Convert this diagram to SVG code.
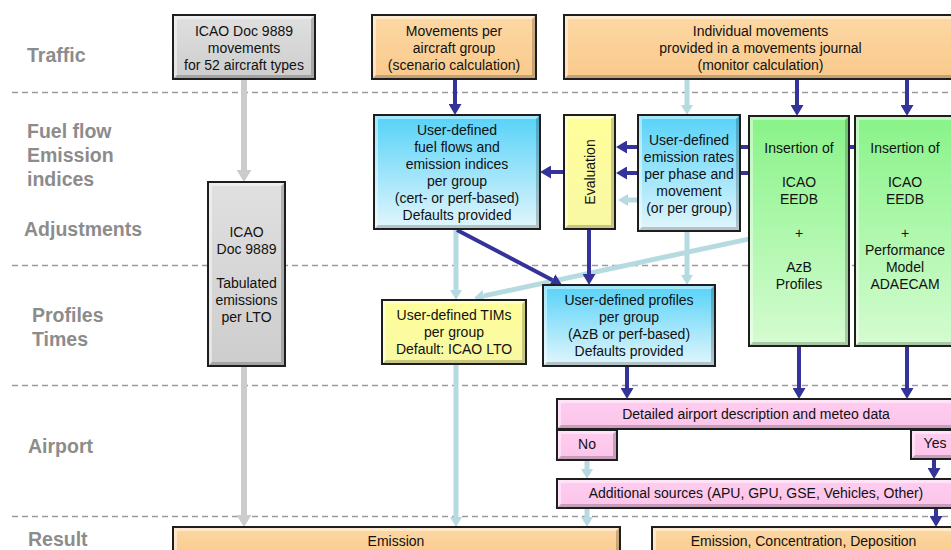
<svg xmlns="http://www.w3.org/2000/svg" width="951" height="550" viewBox="0 0 951 550">
<style>
.lbl{font-family:"Liberation Sans",Arial,sans-serif;font-size:19.5px;font-weight:bold;fill:#8c8c8c}
.t{font-family:"Liberation Sans",Arial,sans-serif;font-size:14px;fill:#111;text-anchor:middle}
.box{stroke:#1e1e1e;stroke-width:2}
.sh{fill:#000;fill-opacity:0.2}
.hl{fill:#fff;fill-opacity:0.45}
.dash{stroke:#9a9a9a;stroke-width:1.3;stroke-dasharray:6 4;fill:none}
.cb{stroke:#333399;stroke-width:4;fill:none;marker-end:url(#mb)}
.cl{stroke:#b5dbe1;stroke-width:5;fill:none;marker-end:url(#ml)}
.cg{stroke:#cccccc;stroke-width:6;fill:none;marker-end:url(#mg)}
</style>
<defs>
<linearGradient id="gGray" x1="0" y1="0" x2="0" y2="1"><stop offset="0" stop-color="#e0e0e0"/><stop offset="1" stop-color="#cdcdcd"/></linearGradient>
<linearGradient id="gOr" x1="0" y1="0" x2="0" y2="1"><stop offset="0" stop-color="#fdd8a4"/><stop offset="1" stop-color="#f9c98c"/></linearGradient>
<linearGradient id="gBl" x1="0" y1="0" x2="0" y2="1"><stop offset="0" stop-color="#55d2f8"/><stop offset="1" stop-color="#e3f6fc"/></linearGradient>
<linearGradient id="gYe" x1="0" y1="0" x2="0" y2="1"><stop offset="0" stop-color="#ffff9a"/><stop offset="1" stop-color="#f8f8a4"/></linearGradient>
<linearGradient id="gGr" x1="0" y1="0" x2="0" y2="1"><stop offset="0" stop-color="#88f388"/><stop offset="1" stop-color="#d5fcd1"/></linearGradient>
<linearGradient id="gPk" x1="0" y1="0" x2="0" y2="1"><stop offset="0" stop-color="#ffcdef"/><stop offset="1" stop-color="#fbc4ea"/></linearGradient>
<marker id="mb" viewBox="0 0 11 13" markerWidth="11" markerHeight="13" refX="0" refY="6.5" orient="auto" markerUnits="userSpaceOnUse"><path d="M0,0 L11,6.5 L0,13 Z" fill="#333399"/></marker>
<marker id="ml" viewBox="0 0 10 12" markerWidth="10" markerHeight="12" refX="0" refY="6" orient="auto" markerUnits="userSpaceOnUse"><path d="M0,0 L10,6 L0,12 Z" fill="#b5dbe1"/></marker>
<marker id="mg" viewBox="0 0 12 15" markerWidth="12" markerHeight="15" refX="0" refY="7.5" orient="auto" markerUnits="userSpaceOnUse"><path d="M0,0 L12,7.5 L0,15 Z" fill="#cccccc"/></marker>
</defs>
<rect width="951" height="550" fill="#ffffff"/>
<g id="lanes">
<line class="dash" x1="12" y1="92.5" x2="951" y2="92.5"/>
<line class="dash" x1="12" y1="265.5" x2="951" y2="265.5"/>
<line class="dash" x1="12" y1="385.5" x2="951" y2="385.5"/>
<line class="dash" x1="12" y1="516.5" x2="951" y2="516.5"/>
<text class="lbl" x="27" y="62">Traffic</text>
<text class="lbl" x="27" y="138">Fuel flow</text>
<text class="lbl" x="27" y="162">Emission</text>
<text class="lbl" x="27" y="186">indices</text>
<text class="lbl" x="24" y="236">Adjustments</text>
<text class="lbl" x="32" y="322">Profiles</text>
<text class="lbl" x="32" y="346">Times</text>
<text class="lbl" x="28" y="453">Airport</text>
<text class="lbl" x="28" y="546">Result</text>
</g>
<g id="connectors">
<line class="cg" x1="244" y1="80" x2="244" y2="170"/>
<line class="cg" x1="244" y1="366" x2="244" y2="515"/>
<line class="cl" x1="687" y1="80" x2="687" y2="105"/>
<line class="cl" x1="638" y1="200" x2="628" y2="200"/>
<line class="cl" x1="687" y1="231" x2="687" y2="275"/>
<line class="cl" x1="456" y1="229" x2="456" y2="290"/>
<line class="cl" x1="456" y1="364" x2="456" y2="517"/>
<line class="cl" x1="760" y1="236.6" x2="483.8" y2="295.9"/>
<line class="cl" x1="587" y1="460" x2="587" y2="469"/>
<line class="cl" x1="587" y1="508" x2="587" y2="517"/>
<line class="cb" x1="455" y1="80" x2="455" y2="104"/>
<line class="cb" x1="797" y1="80" x2="797" y2="105"/>
<line class="cb" x1="907" y1="80" x2="907" y2="105"/>
<line class="cb" x1="905" y1="147" x2="627" y2="147"/>
<line class="cb" x1="800" y1="173" x2="627" y2="173"/>
<line class="cb" x1="564" y1="172" x2="551" y2="172"/>
<line class="cb" x1="589" y1="229" x2="589" y2="274"/>
<line class="cb" x1="457" y1="230" x2="552.3" y2="279.9"/>
<line class="cb" x1="627" y1="366" x2="627" y2="388"/>
<line class="cb" x1="799" y1="346" x2="799" y2="388"/>
<line class="cb" x1="907" y1="346" x2="907" y2="388"/>
<line class="cb" x1="934" y1="459" x2="934" y2="468"/>
<line class="cb" x1="936" y1="508" x2="936" y2="516"/>
</g>
<g id="n-icao-movements">
<rect class="box" x="173" y="15" width="142" height="64" fill="url(#gGray)"/>
<path class="hl" d="M174,78 L174,16 L314,16 L311,19 L177,19 L177,75 Z"/>
<path class="sh" d="M174,78 L314,78 L314,16 L311,19 L311,75 L177,75 Z"/>
<text class="t" x="244" y="35.5">ICAO Doc 9889</text>
<text class="t" x="244" y="52.5">movements</text>
<text class="t" x="244" y="69.5">for 52 aircraft types</text>
</g>
<g id="n-movements-group">
<rect class="box" x="372" y="15" width="164" height="64" fill="url(#gOr)"/>
<path class="hl" d="M373,78 L373,16 L535,16 L532,19 L376,19 L376,75 Z"/>
<path class="sh" d="M373,78 L535,78 L535,16 L532,19 L532,75 L376,75 Z"/>
<text class="t" x="454" y="35.5">Movements per</text>
<text class="t" x="454" y="52.5">aircraft group</text>
<text class="t" x="454" y="69.5">(scenario calculation)</text>
</g>
<g id="n-individual">
<rect class="box" x="564" y="15" width="394" height="64" fill="url(#gOr)"/>
<path class="hl" d="M565,78 L565,16 L957,16 L954,19 L568,19 L568,75 Z"/>
<path class="sh" d="M565,78 L957,78 L957,16 L954,19 L954,75 L568,75 Z"/>
<text class="t" x="760.5" y="35.5">Individual movements</text>
<text class="t" x="760.5" y="52.5">provided in a movements journal</text>
<text class="t" x="760.5" y="69.5">(monitor calculation)</text>
</g>
<g id="n-fuelflows">
<rect class="box" x="374" y="115" width="166" height="114" fill="url(#gBl)"/>
<path class="hl" d="M375,228 L375,116 L539,116 L536,119 L378,119 L378,225 Z"/>
<path class="sh" d="M375,228 L539,228 L539,116 L536,119 L536,225 L378,225 Z"/>
<text class="t" x="457" y="135">User-defined</text>
<text class="t" x="457" y="152">fuel flows and</text>
<text class="t" x="457" y="169">emission indices</text>
<text class="t" x="457" y="186">per group</text>
<text class="t" x="457" y="203">(cert- or perf-based)</text>
<text class="t" x="457" y="220">Defaults provided</text>
</g>
<g id="n-evaluation">
<rect class="box" x="564" y="115" width="51" height="114" fill="url(#gYe)"/>
<path class="hl" d="M565,228 L565,116 L614,116 L611,119 L568,119 L568,225 Z"/>
<path class="sh" d="M565,228 L614,228 L614,116 L611,119 L611,225 L568,225 Z"/>
<text class="t" x="590" y="177" transform="rotate(-90 590 172)">Evaluation</text>
</g>
<g id="n-rates">
<rect class="box" x="638" y="115" width="102" height="116" fill="url(#gBl)"/>
<path class="hl" d="M639,230 L639,116 L739,116 L736,119 L642,119 L642,227 Z"/>
<path class="sh" d="M639,230 L739,230 L739,116 L736,119 L736,227 L642,227 Z"/>
<text class="t" x="689" y="145">User-defined</text>
<text class="t" x="689" y="162">emission rates</text>
<text class="t" x="689" y="179">per phase and</text>
<text class="t" x="689" y="196">movement</text>
<text class="t" x="689" y="213">(or per group)</text>
</g>
<g id="n-insert-azb">
<rect class="box" x="749" y="116" width="100" height="230" fill="url(#gGr)"/>
<path class="hl" d="M750,345 L750,117 L848,117 L845,120 L753,120 L753,342 Z"/>
<path class="sh" d="M750,345 L848,345 L848,117 L845,120 L845,342 L753,342 Z"/>
<text class="t" x="799" y="153">Insertion of</text>
<text class="t" x="799" y="187">ICAO</text>
<text class="t" x="799" y="204">EEDB</text>
<text class="t" x="799" y="238">+</text>
<text class="t" x="799" y="272">AzB</text>
<text class="t" x="799" y="289">Profiles</text>
</g>
<g id="n-insert-adaecam">
<rect class="box" x="855" y="116" width="102" height="230" fill="url(#gGr)"/>
<path class="hl" d="M856,345 L856,117 L956,117 L953,120 L859,120 L859,342 Z"/>
<path class="sh" d="M856,345 L956,345 L956,117 L953,120 L953,342 L859,342 Z"/>
<text class="t" x="905" y="153">Insertion of</text>
<text class="t" x="905" y="187">ICAO</text>
<text class="t" x="905" y="204">EEDB</text>
<text class="t" x="905" y="238">+</text>
<text class="t" x="905" y="255">Performance</text>
<text class="t" x="905" y="272">Model</text>
<text class="t" x="905" y="289">ADAECAM</text>
</g>
<g id="n-tabulated">
<rect class="box" x="208" y="182" width="77" height="184" fill="url(#gGray)"/>
<path class="hl" d="M209,365 L209,183 L284,183 L281,186 L212,186 L212,362 Z"/>
<path class="sh" d="M209,365 L284,365 L284,183 L281,186 L281,362 L212,362 Z"/>
<text class="t" x="246.5" y="237">ICAO</text>
<text class="t" x="246.5" y="254">Doc 9889</text>
<text class="t" x="246.5" y="288">Tabulated</text>
<text class="t" x="246.5" y="305">emissions</text>
<text class="t" x="246.5" y="322">per LTO</text>
</g>
<g id="n-tims">
<rect class="box" x="382" y="300" width="144" height="64" fill="url(#gYe)"/>
<path class="hl" d="M383,363 L383,301 L525,301 L522,304 L386,304 L386,360 Z"/>
<path class="sh" d="M383,363 L525,363 L525,301 L522,304 L522,360 L386,360 Z"/>
<text class="t" x="454" y="320">User-defined TIMs</text>
<text class="t" x="454" y="337">per group</text>
<text class="t" x="454" y="354">Default: ICAO LTO</text>
</g>
<g id="n-profiles">
<rect class="box" x="543" y="285" width="172" height="81" fill="url(#gBl)"/>
<path class="hl" d="M544,365 L544,286 L714,286 L711,289 L547,289 L547,362 Z"/>
<path class="sh" d="M544,365 L714,365 L714,286 L711,289 L711,362 L547,362 Z"/>
<text class="t" x="629" y="305">User-defined profiles</text>
<text class="t" x="629" y="322">per group</text>
<text class="t" x="629" y="339">(AzB or perf-based)</text>
<text class="t" x="629" y="356">Defaults provided</text>
</g>
<g id="n-airport">
<rect class="box" x="557" y="399" width="400" height="30" fill="url(#gPk)"/>
<path class="hl" d="M558,428 L558,400 L956,400 L953,403 L561,403 L561,425 Z"/>
<path class="sh" d="M558,428 L956,428 L956,400 L953,403 L953,425 L561,425 Z"/>
<text class="t" x="756" y="419">Detailed airport description and meteo data</text>
</g>
<g id="n-no">
<rect class="box" x="557" y="430" width="60" height="30" fill="url(#gPk)"/>
<path class="hl" d="M558,459 L558,431 L616,431 L613,434 L561,434 L561,456 Z"/>
<path class="sh" d="M558,459 L616,459 L616,431 L613,434 L613,456 L561,456 Z"/>
<text class="t" x="587" y="449">No</text>
</g>
<g id="n-yes">
<rect class="box" x="911" y="430" width="46" height="29" fill="url(#gPk)"/>
<path class="hl" d="M912,458 L912,431 L956,431 L953,434 L915,434 L915,455 Z"/>
<path class="sh" d="M912,458 L956,458 L956,431 L953,434 L953,455 L915,455 Z"/>
<text class="t" x="935" y="448">Yes</text>
</g>
<g id="n-additional">
<rect class="box" x="557" y="479" width="400" height="29" fill="url(#gPk)"/>
<path class="hl" d="M558,507 L558,480 L956,480 L953,483 L561,483 L561,504 Z"/>
<path class="sh" d="M558,507 L956,507 L956,480 L953,483 L953,504 L561,504 Z"/>
<text class="t" x="756" y="498">Additional sources (APU, GPU, GSE, Vehicles, Other)</text>
</g>
<g id="n-emission">
<rect class="box" x="173" y="527" width="447" height="30" fill="url(#gOr)"/>
<path class="hl" d="M174,556 L174,528 L619,528 L616,531 L177,531 L177,553 Z"/>
<path class="sh" d="M174,556 L619,556 L619,528 L616,531 L616,553 L177,553 Z"/>
<text class="t" x="396" y="546">Emission</text>
</g>
<g id="n-ecd">
<rect class="box" x="652" y="527" width="305" height="30" fill="url(#gOr)"/>
<path class="hl" d="M653,556 L653,528 L956,528 L953,531 L656,531 L656,553 Z"/>
<path class="sh" d="M653,556 L956,556 L956,528 L953,531 L953,553 L656,553 Z"/>
<text class="t" x="803.5" y="546">Emission, Concentration, Deposition</text>
</g>
</svg>
